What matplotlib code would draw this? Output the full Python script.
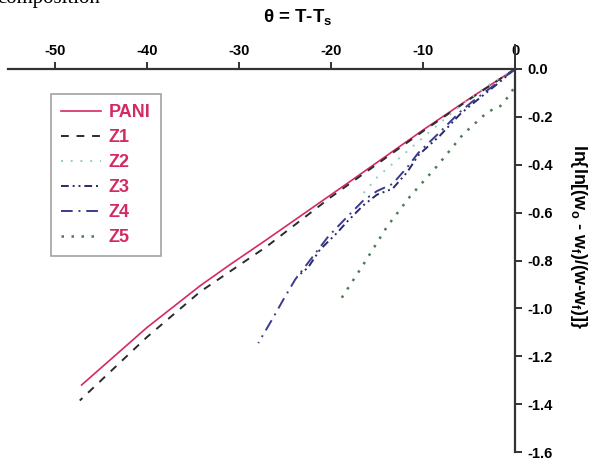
import numpy as np
import matplotlib.pyplot as plt

# theta = T - Ts (x) against ln{ln[(wo-wf)/(w-wf)]} (y) for each sample
pani_x = [0, -5, -10, -17.6, -27, -31, -34.2, -40, -47.1]
pani_y = [0, -0.125, -0.255, -0.461, -0.713, -0.818, -0.905, -1.08, -1.32]

z1_x = [0, -5, -10, -20, -27, -34.2, -40, -47.3]
z1_y = [0, -0.128, -0.26, -0.535, -0.742, -0.93, -1.12, -1.385]

z2_x = [0, -3, -6, -9.6, -12.5, -14.9, -16.5]
z2_y = [0, -0.07, -0.155, -0.273, -0.37, -0.449, -0.52]

z3_x = [0, -2, -4.6, -6, -8.2, -10.5, -11.7, -13.3, -15, -16.5, -18.3, -19.3, -21.2, -22.5, -23.7]
z3_y = [0, -0.065, -0.145, -0.19, -0.28, -0.36, -0.43, -0.5, -0.525, -0.57, -0.64, -0.683, -0.755, -0.83, -0.868]

z4_x = [0, -2, -4.6, -6, -8.2, -10.5, -11.7, -13.3, -15, -16.5, -18.3, -20.3, -22.1, -23.9, -25.2, -26.3, -27.9]
z4_y = [0, -0.06, -0.135, -0.18, -0.265, -0.35, -0.41, -0.48, -0.51, -0.55, -0.62, -0.70, -0.79, -0.88, -0.965, -1.04, -1.145]

z5_x = [-0.2, -0.5, -1.6, -3.0, -5.65, -8.5, -11.4, -13.9, -16.5, -18.9]
z5_y = [-0.084, -0.105, -0.155, -0.18, -0.273, -0.407, -0.532, -0.658, -0.818, -0.96]

xticks = [-50, -40, -30, -20, -10, 0]
yticks = [0.0, -0.2, -0.4, -0.6, -0.8, -1.0, -1.2, -1.4, -1.6]

crimson = '#d42a62'
axcol = '#333333'
font = ['Liberation Sans Narrow', 'Liberation Sans', 'DejaVu Sans']

fig = plt.figure(figsize=(5.95, 4.62), dpi=100)
ax = fig.add_axes([8/595, 1-452/462, 507/595, 383/462])

ax.plot(pani_x, pani_y, color=crimson, lw=1.2, label='PANI')
ax.plot(z1_x, z1_y, color='#2b2b2b', lw=1.4, ls=(0, (4, 4)), label='Z1')
ax.plot(z2_x, z2_y, color='#8fcfc4', lw=1.4, ls=(0, (1, 4)), label='Z2')
ax.plot(z3_x, z3_y, color='#2a2a6a', lw=1.4, ls=(0, (4, 2, 1, 2, 1, 2)), label='Z3')
ax.plot(z4_x, z4_y, color='#3b3b8c', lw=1.4, ls=(0, (6, 3, 1, 3)), label='Z4')
ax.plot(z5_x, z5_y, color='#4f7a55', lw=1.8, ls=(0, (1, 3)), label='Z5')

ax.set_xlim(-55.1, 0)
ax.set_ylim(-1.6, 0)

for s in ['left', 'bottom']:
    ax.spines[s].set_visible(False)
for s in ['top', 'right']:
    ax.spines[s].set_color(axcol)
    ax.spines[s].set_linewidth(1.6)

ax.xaxis.tick_top()
ax.yaxis.tick_right()
ax.set_xticks(xticks)
ax.set_xticklabels([str(t) for t in xticks], fontfamily=font, fontweight='bold', fontsize=10.5)
ax.set_yticks(yticks)
ax.set_yticklabels(['%.1f' % t for t in yticks], fontfamily=font, fontweight='bold', fontsize=10.5)
ax.tick_params(axis='x', direction='out', length=5, width=1.4, color=axcol, pad=3)
ax.tick_params(axis='y', direction='out', length=5, width=1.4, color=axcol, pad=4)

# the right axis line runs up through the "0" label
ax.plot([0, 0], [0, 0.1], color=axcol, lw=1.4, clip_on=False)

fig.text(298/595, 1-18/462, 'θ = T-T$_\\mathregular{s}$', ha='center', va='center',
         fontfamily=font, fontweight='bold', fontsize=13.5)
fig.text(579/595, 1-236/462, r'ln{ln[(w$_\mathregular{o}$ - w$_\mathregular{f}$)/(w-w$_\mathregular{f}$)]}',
         rotation=-90, ha='center', va='center', fontfamily=font, fontweight='bold', fontsize=13)

fig.text(-0.005, 1.004, 'composition', ha='left', va='center', fontfamily='Liberation Serif', fontsize=15)

leg = ax.legend(loc='upper left', bbox_to_anchor=(0.085, 0.935), frameon=True, fancybox=False,
                borderaxespad=0, handlelength=2.2, handletextpad=0.45, labelspacing=0.45,
                borderpad=0.55, prop={'family': font, 'weight': 'bold', 'size': 13})
leg.get_frame().set_edgecolor('#8a8a8a')
leg.get_frame().set_linewidth(1.2)
for t in leg.get_texts():
    t.set_color(crimson)

fig.savefig('out.png', dpi=100)
